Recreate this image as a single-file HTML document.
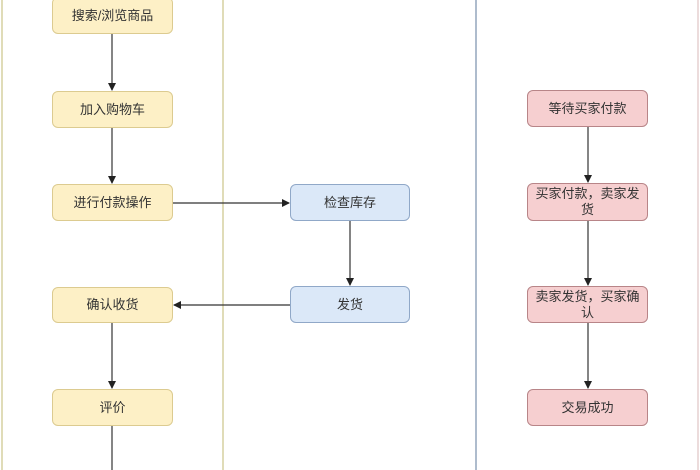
<!DOCTYPE html><html><head><meta charset="utf-8"><style>
body{margin:0;width:700px;height:470px;overflow:hidden;background:#fff;position:relative;font-family:"Liberation Sans","Noto Sans CJK SC",sans-serif}
.v{position:absolute;top:0;height:470px;width:2px}
.b{position:absolute;box-sizing:border-box;border-radius:6px;display:flex;align-items:center;justify-content:center;text-align:center;font-size:13px;color:#333;line-height:16px;padding:0 6px}
.y{background:#fdf0c6;border:1px solid #dccb90;left:52px;width:121px}
.bl{background:#dbe8f8;border:1px solid #90a8c8;left:290px;width:120px}
.r{background:#f6cfd0;border:1px solid #b88588;left:527px;width:121px}
</style></head><body>
<div class="v" style="left:1px;background:#e0dcb8"></div>
<div class="v" style="left:222px;background:#e0dcb8"></div>
<div class="v" style="left:475px;background:#aebccd"></div>
<div class="v" style="left:697px;background:#ecdcdc"></div>
<svg width="700" height="470" style="position:absolute;left:0;top:0">
<defs><marker id="a" markerWidth="8" markerHeight="8" refX="7" refY="4" orient="auto" markerUnits="userSpaceOnUse"><path d="M0,0L8,4L0,8z" fill="#222"/></marker></defs>
<g stroke="#333" stroke-width="1.2" fill="none">
<line x1="112" y1="34" x2="112" y2="90" marker-end="url(#a)"/>
<line x1="112" y1="128" x2="112" y2="183" marker-end="url(#a)"/>
<line x1="173" y1="203" x2="289" y2="203" marker-end="url(#a)"/>
<line x1="350" y1="221" x2="350" y2="285" marker-end="url(#a)"/>
<line x1="290" y1="305" x2="174" y2="305" marker-end="url(#a)"/>
<line x1="112" y1="323" x2="112" y2="388" marker-end="url(#a)"/>
<line x1="112" y1="426" x2="112" y2="470"/>
<line x1="588" y1="127" x2="588" y2="182" marker-end="url(#a)"/>
<line x1="588" y1="221" x2="588" y2="285" marker-end="url(#a)"/>
<line x1="588" y1="323" x2="588" y2="388" marker-end="url(#a)"/>
</g></svg>
<div class="b y" style="top:-3px;height:37px">搜索/浏览商品</div>
<div class="b y" style="top:91px;height:37px">加入购物车</div>
<div class="b y" style="top:184px;height:37px">进行付款操作</div>
<div class="b y" style="top:287px;height:36px">确认收货</div>
<div class="b y" style="top:389px;height:37px">评价</div>
<div class="b bl" style="top:184px;height:37px">检查库存</div>
<div class="b bl" style="top:286px;height:37px">发货</div>
<div class="b r" style="top:90px;height:37px">等待买家付款</div>
<div class="b r" style="top:183px;height:38px">买家付款，卖家发货</div>
<div class="b r" style="top:286px;height:37px">卖家发货，买家确认</div>
<div class="b r" style="top:389px;height:37px">交易成功</div>
</body></html>
